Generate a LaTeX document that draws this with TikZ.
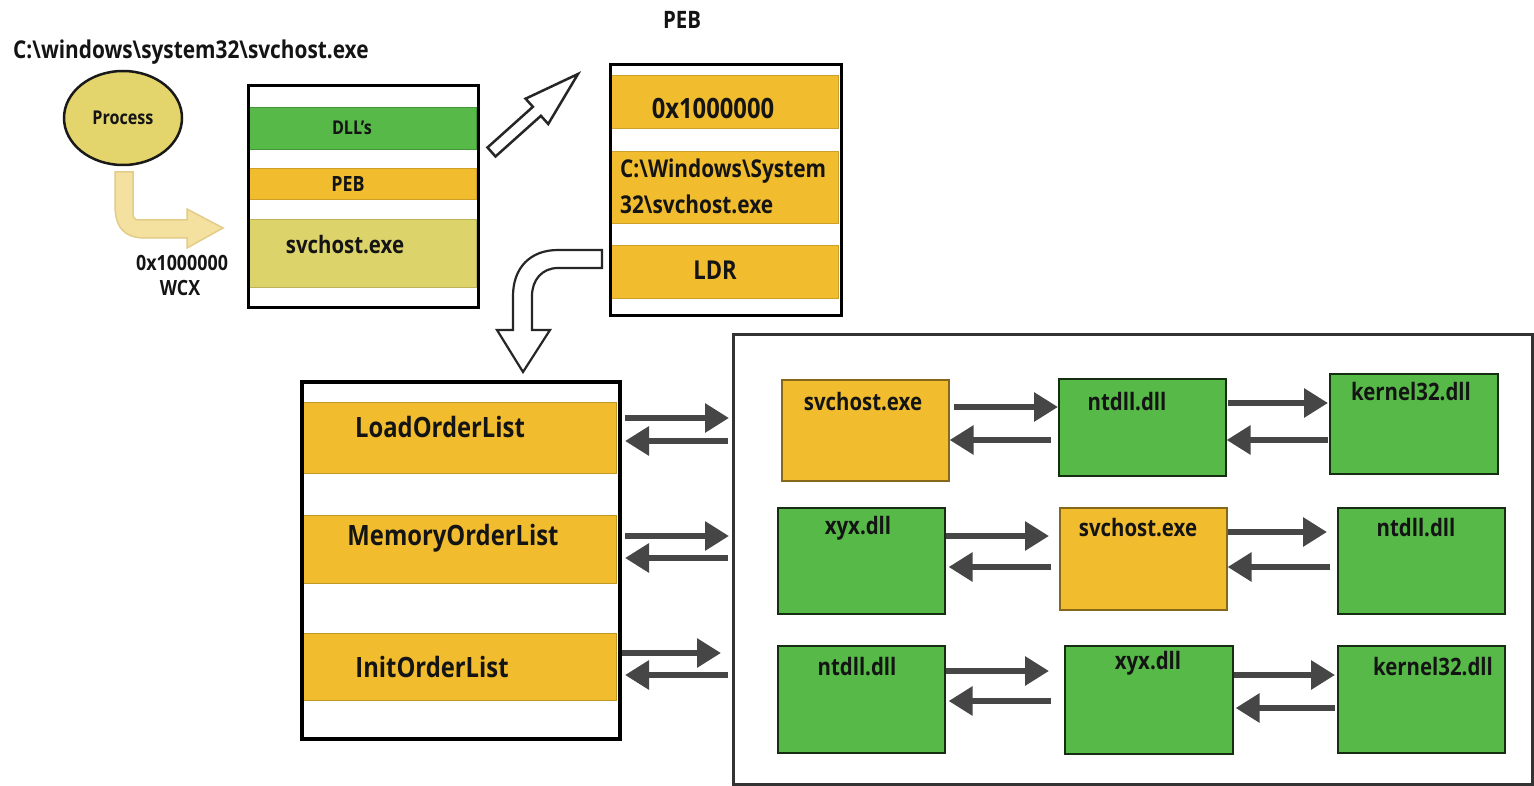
\documentclass[tikz,border=0pt]{standalone}
\usepackage{fontspec}
\setmainfont{Open Sans}[FakeStretch=0.85]
\usetikzlibrary{arrows.meta,shapes.geometric}
\definecolor{orng}{HTML}{F1BD2F}
\definecolor{grn}{HTML}{56B948}
\definecolor{khaki}{HTML}{DCD36A}
\definecolor{procfill}{HTML}{E3D46B}
\definecolor{tanfill}{HTML}{F4E1A0}
\definecolor{tanline}{HTML}{E2CC88}
\definecolor{darr}{HTML}{464646}
\begin{document}
\begin{tikzpicture}[x=1pt,y=-1pt,
  lbl/.style={font=\bfseries\fontsize{#1}{#1}\selectfont, text=black!92, inner sep=0pt},
  band/.style={anchor=north west, inner sep=0pt, line width=0.8pt},
  outerbox/.style={draw=black, anchor=north west, inner sep=0pt},
  rbox/.style={anchor=north west, inner sep=0pt, line width=1.6pt, minimum width=167pt},
  gbox/.style={rbox, fill=grn, draw=black!75!grn},
  obox/.style={rbox, fill=orng, draw=black!45!orng},
  hollow/.style={draw=black!85, line width=2.5pt, fill=white, line join=miter},
  fat/.style={draw=darr, line width=6pt, -{Triangle[length=24pt,width=28pt]}}]
\useasboundingbox (0,0) rectangle (1534,786);
\fill[white] (0,0) rectangle (1534,786);

% ---------- process ----------
\node[lbl=24.5, anchor=west] (path) at (13,52) {C:\textbackslash windows\textbackslash system32\textbackslash svchost.exe};
\node[ellipse, draw=black!90, line width=2.5pt, fill=procfill, minimum width=118pt, minimum height=94pt, inner sep=0pt] (proc) at (123,118) {};
\node[lbl=19] (proct) at (123,118) {Process};
\draw[fill=tanfill, draw=tanline, line width=1.5pt] (115,172) -- (115,205) .. controls (115,226) and (123,238) .. (145,238) -- (187,238) -- (187,248) -- (223,228) -- (187,209) -- (187,220) -- (139,220) .. controls (135,220) and (133,218) .. (133,214) -- (133,172) -- cycle;
\node[lbl=21] (addr1) at (182,263) {0x1000000};
\node[lbl=21] (wcx) at (180,288) {WCX};

% ---------- memory box ----------
\node[band, fill=grn, draw=grn!80!black, minimum width=227pt, minimum height=42pt] (dllband) at (249,107) {};
\node[band, fill=orng, draw=orng!85!black, minimum width=227pt, minimum height=31pt] (pebband) at (249,168) {};
\node[band, fill=khaki, draw=khaki!85!black, minimum width=227pt, minimum height=68pt] (exeband) at (249,219) {};
\node[outerbox, line width=3pt, minimum width=230pt, minimum height=222pt] (mem) at (247,84) {};
\node[lbl=19] (dllt) at (352,128) {DLL's};
\node[lbl=21] (pebt) at (348,184) {PEB};
\node[lbl=24] (exet) at (345,245) {svchost.exe};

% diagonal hollow arrow
\draw[hollow] (487.5,147.5) -- (532.9,106.8) -- (525.6,98.7) -- (578,74) -- (548.2,124.0) -- (540.9,115.8) -- (495.5,156.5) -- cycle;

% ---------- PEB ----------
\node[lbl=24] (pebtitle) at (682,20) {PEB};
\node[band, fill=orng, draw=orng!85!black, minimum width=227pt, minimum height=53pt] (imgband) at (611,75) {};
\node[band, fill=orng, draw=orng!85!black, minimum width=227pt, minimum height=72pt] (nameband) at (611,151) {};
\node[band, fill=orng, draw=orng!85!black, minimum width=227pt, minimum height=53pt] (ldrband) at (611,245) {};
\node[outerbox, line width=3pt, minimum width=231pt, minimum height=251pt] (peb) at (609,63) {};
\node[lbl=28] (imgt) at (713,108) {0x1000000};
\node[lbl=24.5, anchor=west] (namet1) at (620,171) {C:\textbackslash Windows\textbackslash System};
\node[lbl=24.5, anchor=west] (namet2) at (620,204) {32\textbackslash svchost.exe};
\node[lbl=26] (ldrt) at (715,270) {LDR};

% bent hollow arrow
\draw[hollow, line width=2.2pt] (602,250) -- (558,250) .. controls (530,250) and (513,268) .. (513,296) -- (513,330) -- (497,330) -- (523,372) -- (550,330) -- (532,330) -- (532,296) .. controls (532,280) and (542,268) .. (558,268) -- (602,268) -- cycle;

% ---------- lists ----------
\node[band, fill=orng, draw=orng!80!black, minimum width=314pt, minimum height=71pt] (loadband) at (302,402) {};
\node[band, fill=orng, draw=orng!80!black, minimum width=314pt, minimum height=68pt] (memband) at (302,515) {};
\node[band, fill=orng, draw=orng!80!black, minimum width=314pt, minimum height=67pt] (initband) at (302,633) {};
\node[outerbox, line width=4pt, minimum width=318pt, minimum height=357pt] (lst) at (300,380) {};
\node[lbl=28] (loadt) at (440,427) {LoadOrderList};
\node[lbl=28] (memt) at (453,538) {MemoryOrderList};
\node[lbl=28] (initt) at (432,667) {InitOrderList};

% ---------- big box ----------
\node[outerbox, draw=black!80, line width=2.5pt, minimum width=799pt, minimum height=450pt] (big) at (732,333) {};

\draw[fat, shorten <=3pt, shorten >=3pt] (lst.east |- 0,418) -- (big.west |- 0,418);
\draw[fat, shorten <=4pt, shorten >=3pt] (big.west |- 0,441) -- (lst.east |- 0,441);
\draw[fat, shorten <=3pt, shorten >=3pt] (lst.east |- 0,536) -- (big.west |- 0,536);
\draw[fat, shorten <=4pt, shorten >=3pt] (big.west |- 0,558) -- (lst.east |- 0,558);
\draw[fat, shorten >=11pt] (lst.east |- 0,653) -- (big.west |- 0,653);
\draw[fat, shorten <=4pt, shorten >=3pt] (big.west |- 0,675) -- (lst.east |- 0,675);

% row 1
\node[obox, minimum height=101pt] (A1) at (781,379) {};
\node[gbox, minimum height=97pt] (B1) at (1058,378) {};
\node[gbox, minimum width=168pt, minimum height=100pt] (C1) at (1329,373) {};
\node[lbl=24] (A1t) at (863,402) {svchost.exe};
\node[lbl=24] (B1t) at (1127,402) {ntdll.dll};
\node[lbl=24] (C1t) at (1411,392) {kernel32.dll};
% row 2
\node[gbox, minimum height=106pt] (A2) at (777,507) {};
\node[obox, minimum height=102pt] (B2) at (1059,507) {};
\node[gbox, minimum height=106pt] (C2) at (1337,507) {};
\node[lbl=24] (A2t) at (858,528) {xyx.dll};
\node[lbl=24] (B2t) at (1138,528) {svchost.exe};
\node[lbl=24] (C2t) at (1416,528) {ntdll.dll};
% row 3
\node[gbox, minimum height=107pt] (A3) at (777,645) {};
\node[gbox, minimum width=168pt, minimum height=108pt] (B3) at (1064,645) {};
\node[gbox, minimum height=107pt] (C3) at (1337,645) {};
\node[lbl=24] (A3t) at (857,667) {ntdll.dll};
\node[lbl=24] (B3t) at (1148,663) {xyx.dll};
\node[lbl=24] (C3t) at (1433,667) {kernel32.dll};

% row arrows
\draw[fat, shorten <=4pt] (A1.east |- 0,407) -- (B1.west |- 0,407);
\draw[fat, shorten <=7pt] (B1.west |- 0,440) -- (A1.east |- 0,440);
\draw[fat, shorten <=1pt, shorten >=1pt] (B1.east |- 0,403) -- (C1.west |- 0,403);
\draw[fat, shorten <=1pt] (C1.west |- 0,440) -- (B1.east |- 0,440);
\draw[fat, shorten >=10pt] (A2.east |- 0,536) -- (B2.west |- 0,536);
\draw[fat, shorten <=8pt, shorten >=3pt] (B2.west |- 0,567) -- (A2.east |- 0,567);
\draw[fat, shorten >=10pt] (B2.east |- 0,532) -- (C2.west |- 0,532);
\draw[fat, shorten <=7pt] (C2.west |- 0,567) -- (B2.east |- 0,567);
\draw[fat, shorten >=15pt] (A3.east |- 0,671) -- (B3.west |- 0,671);
\draw[fat, shorten <=13pt, shorten >=3pt] (B3.west |- 0,701) -- (A3.east |- 0,701);
\draw[fat, shorten >=2pt] (B3.east |- 0,675) -- (C3.west |- 0,675);
\draw[fat, shorten <=2pt, shorten >=2pt] (C3.west |- 0,708) -- (B3.east |- 0,708);
\end{tikzpicture}
\end{document}
